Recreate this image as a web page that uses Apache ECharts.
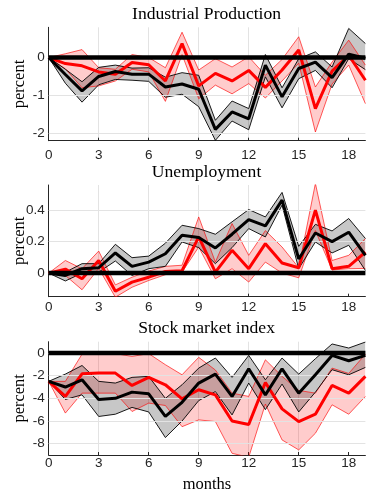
<!DOCTYPE html>
<html>
<head>
<meta charset="utf-8">
<script src="https://cdn.jsdelivr.net/npm/echarts@6/dist/echarts.min.js"></script>
<style>
  html, body { margin: 0; padding: 0; background: #ffffff; }
  #chart { width: 367px; height: 492px; }
</style>
</head>
<body>
<div id="chart"></div>
<script>
// Horizon in months
const months = [0, 1, 2, 3, 4, 5, 6, 7, 8, 9, 10, 11, 12, 13, 14, 15, 16, 17, 18, 19];
const xTicks = [0, 3, 6, 9, 12, 15, 18];

// Industrial Production (percent)
const ipBlack   = [0, -0.45, -0.88, -0.50, -0.37, -0.44, -0.44, -0.78, -0.70, -0.84, -1.90, -1.44, -1.62, -0.20, -1.04, -0.29, -0.12, -0.53, 0.09, -0.02];
const ipBlackHi = [0, -0.31, -0.64, -0.26, -0.20, -0.28, -0.27, -0.52, -0.40, -0.47, -1.66, -1.15, -1.35, 0.08, -0.80, -0.03, 0.15, -0.25, 0.77, 0.37];
const ipBlackLo = [0, -0.68, -1.18, -0.72, -0.58, -0.60, -0.63, -1.05, -0.97, -1.30, -2.19, -1.68, -1.91, -0.51, -1.33, -0.56, -0.34, -0.80, -0.03, -0.32];
const ipRed     = [0, -0.16, -0.22, -0.38, -0.44, -0.13, -0.19, -0.62, 0.37, -0.75, -0.42, -0.62, -0.34, -0.79, -0.33, 0.20, -1.35, -0.36, 0.06, -0.60];
const ipRedHi   = [0, 0.10, 0.21, -0.27, -0.31, 0.08, 0.00, -0.27, 0.67, -0.33, -0.03, -0.25, 0.02, -0.47, -0.05, 0.55, -0.78, -0.12, 0.46, -0.20];
const ipRedLo   = [0, -0.30, -0.80, -0.75, -0.62, -0.31, -0.38, -1.16, 0.08, -1.09, -0.73, -0.96, -0.69, -1.07, -0.62, -0.15, -1.97, -0.70, -0.20, -1.22];
const ipTicks   = [-2, -1, 0];

// Unemployment (percent)
const unBlack   = [0, -0.015, 0.028, 0.034, 0.128, 0.043, 0.070, 0.123, 0.240, 0.226, 0.160, 0.247, 0.340, 0.300, 0.464, 0.090, 0.255, 0.200, 0.260, 0.113];
const unBlackHi = [0, 0.006, 0.060, 0.060, 0.183, 0.098, 0.108, 0.190, 0.304, 0.283, 0.247, 0.326, 0.404, 0.357, 0.513, 0.170, 0.310, 0.268, 0.347, 0.220];
const unBlackLo = [0, -0.050, 0.000, 0.006, 0.077, -0.015, 0.028, 0.043, 0.198, 0.162, 0.060, 0.162, 0.283, 0.230, 0.432, 0.028, 0.198, 0.128, 0.177, 0.017];
const unRed     = [0, 0.025, -0.036, 0.080, -0.115, -0.057, -0.026, 0.010, 0.015, 0.230, 0.006, 0.145, 0.028, 0.187, 0.064, 0.034, 0.400, 0.028, 0.043, 0.134];
const unRedHi   = [0, 0.080, 0.028, 0.140, -0.075, -0.026, 0.013, 0.043, 0.050, 0.357, 0.070, 0.315, 0.113, 0.270, 0.166, 0.034, 0.570, 0.080, 0.113, 0.220];
const unRedLo   = [0, -0.015, -0.106, 0.030, -0.153, -0.090, -0.047, -0.010, 0.006, 0.166, -0.036, 0.028, -0.057, 0.070, 0.000, -0.030, 0.270, 0.020, 0.028, 0.030];
const unTicks   = [0, 0.2, 0.4];

// Stock market index (percent)
const smBlack   = [-2.5, -3.0, -2.36, -4.1, -4.0, -3.45, -3.6, -5.6, -4.35, -2.65, -1.86, -3.83, -1.39, -3.69, -1.39, -3.54, -1.92, -0.21, -0.68, -0.21];
const smBlackHi = [-2.5, -1.86, -1.1, -2.5, -2.65, -2.15, -2.06, -4.0, -2.8, -1.33, -0.44, -2.15, -0.21, -2.36, -0.44, -1.86, -0.5, 0.8, 0.44, 0.97];
const smBlackLo = [-2.5, -4.1, -3.69, -5.6, -5.4, -4.8, -5.2, -7.46, -6.0, -4.2, -3.4, -5.46, -2.65, -5.0, -2.74, -5.2, -3.45, -1.47, -1.92, -1.27];
const smRed     = [-2.5, -3.83, -1.83, -1.77, -1.77, -2.86, -2.15, -2.8, -4.04, -3.24, -3.69, -6.0, -6.3, -2.6, -4.93, -6.05, -5.4, -2.86, -3.54, -2.06];
const smRedHi   = [-2.5, -2.5, -0.1, -0.05, -0.05, -0.3, -0.05, -1.03, -1.92, -0.38, -1.5, -3.54, -3.83, -0.6, -2.06, -3.3, -3.54, -1.33, -1.8, -0.1];
const smRedLo   = [-2.5, -5.3, -3.54, -3.54, -3.54, -5.16, -4.42, -4.63, -6.5, -5.9, -6.05, -8.85, -9.2, -4.5, -7.67, -8.55, -7.08, -4.57, -5.4, -3.83];
const smTicks   = [-8, -6, -4, -2, 0];

const panels = [
  { title: 'Industrial Production', black: ipBlack, blackHi: ipBlackHi, blackLo: ipBlackLo,
    red: ipRed, redHi: ipRedHi, redLo: ipRedLo, ticks: ipTicks, min: -2.2, max: 0.8, xMargin: 8,
    grid: { left: 48.7, top: 27.3, width: 316.7, height: 113.4 } },
  { title: 'Unemployment', black: unBlack, blackHi: unBlackHi, blackLo: unBlackLo,
    red: unRed, redHi: unRedHi, redLo: unRedLo, ticks: unTicks, min: -0.15, max: 0.56, xMargin: 4,
    grid: { left: 48.7, top: 185, width: 316.7, height: 111.7 } },
  { title: 'Stock market index', black: smBlack, blackHi: smBlackHi, blackLo: smBlackLo,
    red: smRed, redHi: smRedHi, redLo: smRedLo, ticks: smTicks, min: -9, max: 1, xMargin: 1,
    grid: { left: 48.7, top: 341.7, width: 316.7, height: 113.3 } }
];

const AXIS = '#262626';
const GRIDLINE = '#e3e3e3';
const SERIF = '"Liberation Serif", "DejaVu Serif", serif';
const SANS = '"Liberation Sans", "DejaVu Sans", sans-serif';

const pairs = arr => months.map((m, i) => [m, arr[i]]);

// Shaded confidence band between lower and upper bounds, clipped to the plot area
function band(idx, lo, hi, fill, z) {
  return {
    type: 'custom', xAxisIndex: idx, yAxisIndex: idx, z: z, silent: true,
    data: [[0, 0]],
    renderItem: (params, api) => {
      const pts = [];
      months.forEach((m, i) => pts.push(api.coord([m, hi[i]])));
      for (let i = months.length - 1; i >= 0; i--) pts.push(api.coord([months[i], lo[i]]));
      const cs = params.coordSys;
      return {
        type: 'group',
        clipPath: { type: 'rect', shape: { x: cs.x, y: cs.y, width: cs.width, height: cs.height } },
        children: [{ type: 'polygon', shape: { points: pts }, style: { fill: fill, stroke: null } }]
      };
    }
  };
}

function line(idx, arr, color, width, z) {
  return {
    type: 'line', xAxisIndex: idx, yAxisIndex: idx, data: pairs(arr), z: z,
    showSymbol: false, symbol: 'none', silent: true,
    lineStyle: { color: color, width: width }
  };
}

const grids = [], xAxes = [], yAxes = [], series = [], graphics = [];

panels.forEach((p, idx) => {
  grids.push(p.grid);
  xAxes.push({
    type: 'value', gridIndex: idx, min: 0, max: 19, interval: 3,
    axisLine: { show: true, onZero: false, lineStyle: { color: AXIS, width: 1 } },
    axisTick: { show: true, inside: true, length: 3, customValues: xTicks, lineStyle: { color: AXIS } },
    axisLabel: { customValues: xTicks, color: AXIS, fontSize: 13.5, fontFamily: SANS, margin: p.xMargin },
    splitLine: { show: true, showMinLine: false, showMaxLine: false, lineStyle: { color: GRIDLINE, width: 1 } }
  });
  yAxes.push({
    type: 'value', gridIndex: idx, min: p.min, max: p.max,
    axisLine: { show: true, onZero: false, lineStyle: { color: AXIS, width: 1 } },
    axisTick: { show: true, inside: true, length: 3, customValues: p.ticks, lineStyle: { color: AXIS } },
    axisLabel: { customValues: p.ticks, color: AXIS, fontSize: 13.5, fontFamily: SANS, margin: 4,
                 formatter: v => String(v) },
    splitLine: { show: false }
  });

  // horizontal grid lines at the y ticks
  series.push({
    type: 'line', xAxisIndex: idx, yAxisIndex: idx, data: [], z: 1, silent: true,
    markLine: {
      silent: true, symbol: 'none', animation: false, label: { show: false },
      lineStyle: { type: 'solid', color: GRIDLINE, width: 1 },
      data: p.ticks.map(v => ({ yAxis: v }))
    }
  });

  series.push(band(idx, p.redLo, p.redHi, 'rgba(255,0,0,0.2)', 2));
  series.push(band(idx, p.blackLo, p.blackHi, 'rgba(0,0,0,0.22)', 3));
  series.push(line(idx, p.redHi, 'rgba(255,0,0,0.8)', 0.8, 4));
  series.push(line(idx, p.redLo, 'rgba(255,0,0,0.8)', 0.8, 4));
  series.push(line(idx, p.blackHi, '#000000', 0.9, 4));
  series.push(line(idx, p.blackLo, '#000000', 0.9, 4));
  series.push(line(idx, p.red, '#ff0000', 3, 5));
  series.push(line(idx, p.black, '#000000', 3, 6));
  series.push(line(idx, months.map(() => 0), '#000000', 4.5, 7));

  const g = p.grid;
  graphics.push({
    type: 'text', x: g.left + g.width / 2 - 0.5, y: g.top - 13, silent: true,
    style: { text: p.title, font: '17.6px ' + SERIF, fill: '#000', textAlign: 'center', textVerticalAlign: 'middle' }
  });
  graphics.push({
    type: 'text', x: 19.5, y: g.top + g.height / 2, rotation: Math.PI / 2, silent: true,
    style: { text: 'percent', font: '16.5px ' + SERIF, fill: '#000', textAlign: 'center', textVerticalAlign: 'middle' }
  });
});

graphics.push({
  type: 'text', x: 207, y: 485, silent: true,
  style: { text: 'months', font: '16.5px ' + SERIF, fill: '#000', textAlign: 'center', textVerticalAlign: 'middle' }
});

const chart = echarts.init(document.getElementById('chart'), null, { renderer: 'canvas' });
chart.setOption({
  animation: false,
  backgroundColor: '#ffffff',
  grid: grids,
  xAxis: xAxes,
  yAxis: yAxes,
  series: series,
  graphic: graphics
});
</script>
</body>
</html>
